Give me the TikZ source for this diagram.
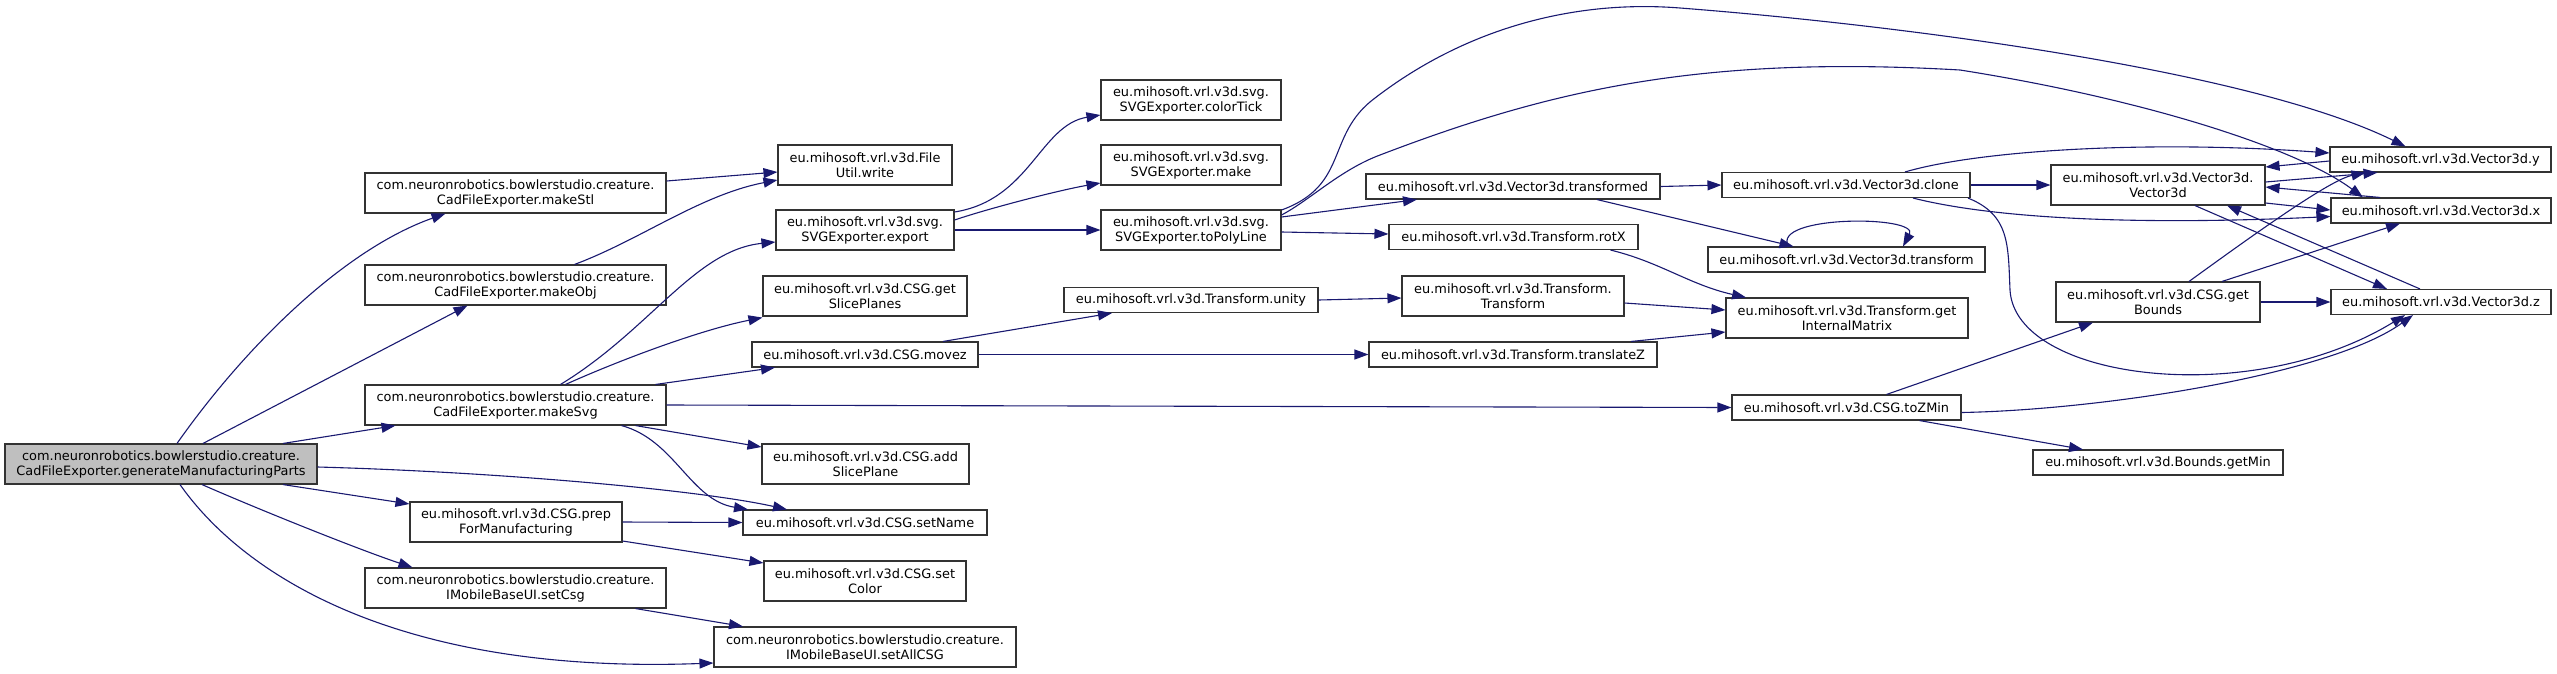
\documentclass[tikz,border=0pt]{standalone}
\usepackage{fontspec}
\setmainfont{DejaVu Sans}
\usetikzlibrary{arrows.meta,calc}
\definecolor{edgeblue}{HTML}{191970}
\tikzset{
  fn/.style={draw=black!80, fill=white, line width=1.1pt, inner sep=0pt, align=center,
    font=\fontsize{12.9}{15}\selectfont},
  oneline/.style={fn, minimum height=25},
  twoline/.style={fn, minimum height=40},
  call/.style={draw=edgeblue, line width=1.1pt, -{Triangle[length=14pt,width=10pt]}},
}
\begin{document}
\begin{tikzpicture}[x=1pt,y=-1pt]
\useasboundingbox (0,0) rectangle (2557,673);

% caller and first level
\node[twoline, fill=black!25, minimum width=312] (gmp) at (161,464) {com.neuronrobotics.bowlerstudio.creature.\\CadFileExporter.generateManufacturingParts};
\node[twoline, minimum width=301] (makeStl) at (515.5,193) {com.neuronrobotics.bowlerstudio.creature.\\CadFileExporter.makeStl};
\node[twoline, minimum width=301] (makeObj) at (515.5,285) {com.neuronrobotics.bowlerstudio.creature.\\CadFileExporter.makeObj};
\node[twoline, minimum width=301] (makeSvg) at (515.5,405) {com.neuronrobotics.bowlerstudio.creature.\\CadFileExporter.makeSvg};
\node[twoline, minimum width=212] (prepMfg) at (516,522) {eu.mihosoft.vrl.v3d.CSG.prep\\ForManufacturing};
\node[twoline, minimum width=301] (setCsg) at (515.5,588) {com.neuronrobotics.bowlerstudio.creature.\\IMobileBaseUI.setCsg};

% second level
\node[twoline, minimum width=174] (fileWrite) at (865,165) {eu.mihosoft.vrl.v3d.File\\Util.write};
\node[twoline, minimum width=178] (svgExport) at (865,230) {eu.mihosoft.vrl.v3d.svg.\\SVGExporter.export};
\node[twoline, minimum width=204] (getSlice) at (865,296) {eu.mihosoft.vrl.v3d.CSG.get\\SlicePlanes};
\node[oneline, minimum width=226] (moveZ) at (865,354.5) {eu.mihosoft.vrl.v3d.CSG.movez};
\node[twoline, minimum width=207] (addSlice) at (865.5,464) {eu.mihosoft.vrl.v3d.CSG.add\\SlicePlane};
\node[oneline, minimum width=244] (setName) at (865,522.5) {eu.mihosoft.vrl.v3d.CSG.setName};
\node[twoline, minimum width=202] (setColor) at (865,581) {eu.mihosoft.vrl.v3d.CSG.set\\Color};
\node[twoline, minimum width=302] (setAll) at (865,647) {com.neuronrobotics.bowlerstudio.creature.\\IMobileBaseUI.setAllCSG};

% svg exporter and transforms
\node[twoline, minimum width=180] (colorTick) at (1191,100) {eu.mihosoft.vrl.v3d.svg.\\SVGExporter.colorTick};
\node[twoline, minimum width=180] (svgMake) at (1191,165) {eu.mihosoft.vrl.v3d.svg.\\SVGExporter.make};
\node[twoline, minimum width=180] (polyLine) at (1191,230) {eu.mihosoft.vrl.v3d.svg.\\SVGExporter.toPolyLine};
\node[oneline, minimum width=254] (tfUnity) at (1191,300) {eu.mihosoft.vrl.v3d.Transform.unity};
\node[oneline, minimum width=294] (v3Transformed) at (1513,186.5) {eu.mihosoft.vrl.v3d.Vector3d.transformed};
\node[oneline, minimum width=249] (tfRotX) at (1513.5,237) {eu.mihosoft.vrl.v3d.Transform.rotX};
\node[twoline, minimum width=222] (tfCtor) at (1513,296) {eu.mihosoft.vrl.v3d.Transform.\\Transform};
\node[oneline, minimum width=288] (tfTranslateZ) at (1513,354.5) {eu.mihosoft.vrl.v3d.Transform.translateZ};

% vectors and bounds
\node[oneline, minimum width=248] (v3Clone) at (1846,185) {eu.mihosoft.vrl.v3d.Vector3d.clone};
\node[oneline, minimum width=277] (v3Transform) at (1846.5,259.5) {eu.mihosoft.vrl.v3d.Vector3d.transform};
\node[twoline, minimum width=242] (tfMatrix) at (1847,318) {eu.mihosoft.vrl.v3d.Transform.get\\InternalMatrix};
\node[oneline, minimum width=229] (toZMin) at (1846.5,407.5) {eu.mihosoft.vrl.v3d.CSG.toZMin};
\node[twoline, minimum width=214] (v3Ctor) at (2158,185) {eu.mihosoft.vrl.v3d.Vector3d.\\Vector3d};
\node[twoline, minimum width=204] (getBounds) at (2158,302) {eu.mihosoft.vrl.v3d.CSG.get\\Bounds};
\node[oneline, minimum width=250] (boundsMin) at (2158,462.5) {eu.mihosoft.vrl.v3d.Bounds.getMin};
\node[oneline, minimum width=221] (v3y) at (2440.5,159.5) {eu.mihosoft.vrl.v3d.Vector3d.y};
\node[oneline, minimum width=220] (v3x) at (2441,210.5) {eu.mihosoft.vrl.v3d.Vector3d.x};
\node[oneline, minimum width=220] (v3z) at (2441,302) {eu.mihosoft.vrl.v3d.Vector3d.z};

% calls from generateManufacturingParts
\draw[call] ($(gmp.north)+(16,0)$) .. controls (247,344) and (345,249) .. ($(makeStl.south)+(-70,0)$);
\draw[call] ($(gmp.north)+(42,0)$) -- ($(makeObj.south)+(-48,0)$);
\draw[call] ($(gmp.north)+(122,0)$) -- ($(makeSvg.south)+(-120,0)$);
\draw[call] ($(gmp.east)+(0,3)$) .. controls (500,472) and (700,490) .. ($(setName.north)+(-78,0)$);
\draw[call] ($(gmp.south)+(122,0)$) -- ($(prepMfg.west)+(0,-18)$);
\draw[call] ($(gmp.south)+(41,0)$) .. controls (260,510) and (360,550) .. ($(setCsg.north)+(-103,0)$);
\draw[call] ($(gmp.south)+(19,0)$) .. controls (240,570) and (390,675) .. ($(setAll.west)+(0,16)$);

% first level calls
\draw[call] ($(makeStl.east)+(0,-12)$) -- ($(fileWrite.west)+(0,7)$);
\draw[call] ($(makeObj.north)+(59,0)$) .. controls (640,240) and (700,195) .. ($(fileWrite.west)+(0,15)$);
\draw[call] ($(makeSvg.north)+(45,0)$) .. controls (650,330) and (695,250) .. ($(svgExport.west)+(0,12)$);
\draw[call] ($(makeSvg.north)+(50,0)$) .. controls (620,360) and (700,330) .. ($(getSlice.south west)+(0,1)$);
\draw[call] ($(makeSvg.north)+(140,0)$) -- ($(moveZ.south)+(-90,0)$);
\draw[call] (makeSvg.east) -- (toZMin.west);
\draw[call] ($(makeSvg.south)+(120,0)$) -- ($(addSlice.west)+(0,-17)$);
\draw[call] ($(makeSvg.south)+(106,0)$) .. controls (675,440) and (690,500) .. ($(setName.north)+(-117,0)$);
\draw[call] (prepMfg.east) -- (setName.west);
\draw[call] ($(prepMfg.east)+(0,19)$) -- ($(setColor.west)+(0,-18)$);
\draw[call] ($(setCsg.south)+(120,0)$) -- ($(setAll.north)+(-122,0)$);

% svg exporter calls
\draw[call] ($(svgExport.east)+(0,-18)$) .. controls (1030,200) and (1040,125) .. ($(colorTick.west)+(0,15)$);
\draw[call] ($(svgExport.east)+(0,-10)$) .. controls (990,208) and (1060,190) .. ($(svgMake.west)+(0,18)$);
\draw[call] (svgExport.east) -- (polyLine.west);
\draw[call] ($(polyLine.east)+(0,-20)$) .. controls (1350,185) and (1325,135) .. (1375,98)
  .. controls (1470,25) and (1580,0) .. (1680,8) .. controls (1900,25) and (2250,70) .. ($(v3y.north)+(-35,0)$);
\draw[call] ($(polyLine.east)+(0,-15)$) .. controls (1310,200) and (1340,170) .. (1380,155)
  .. controls (1550,90) and (1700,55) .. (1960,70) .. controls (2150,100) and (2300,150) .. ($(v3x.north)+(-78,0)$);
\draw[call] ($(polyLine.east)+(0,-13)$) -- ($(v3Transformed.south)+(-96,0)$);
\draw[call] ($(polyLine.east)+(0,2)$) -- ($(tfRotX.west)+(0,-3)$);

% transform calls
\draw[call] ($(moveZ.north)+(78,0)$) -- ($(tfUnity.south)+(-79,0)$);
\draw[call] (moveZ.east) -- (tfTranslateZ.west);
\draw[call] (tfUnity.east) -- ($(tfCtor.west)+(0,2)$);
\draw[call] ($(tfCtor.east)+(0,7)$) -- ($(tfMatrix.west)+(0,-8)$);
\draw[call] ($(tfTranslateZ.north)+(118,0)$) -- ($(tfMatrix.west)+(0,14)$);
\draw[call] ($(tfRotX.south)+(97,0)$) .. controls (1660,262) and (1690,285) .. ($(tfMatrix.north)+(-101,0)$);
\draw[call] (v3Transformed.east) -- (v3Clone.west);
\draw[call] ($(v3Transformed.south)+(84,0)$) -- ($(v3Transform.north)+(-53,0)$);
\draw[call] ($(v3Transform.north)+(-58,0)$) .. controls (1770,215) and (1920,215) .. ($(v3Transform.north)+(56.5,0)$);

% vector calls
\draw[call] (v3Clone.east) -- (v3Ctor.west);
\draw[call] ($(v3Clone.north)+(59,0)$) .. controls (1980,150) and (2150,140) .. ($(v3y.west)+(0,-6.5)$);
\draw[call] ($(v3Clone.south)+(67,0)$) .. controls (2000,220) and (2150,225) .. ($(v3x.west)+(0,6)$);
\draw[call] ($(v3Clone.south)+(122,0)$) .. controls (2010,215) and (2008,245) .. (2010,290)
  .. controls (2015,380) and (2250,410) .. ($(v3z.south)+(-36,0)$);
\draw[call] ($(v3Ctor.east)+(0,-3)$) -- ($(v3y.south)+(-63,0)$);
\draw[call] ($(v3y.west)+(0,1.5)$) -- ($(v3Ctor.east)+(0,-18)$);
\draw[call] ($(v3Ctor.east)+(0,18)$) -- ($(v3x.west)+(0,-0.5)$);
\draw[call] ($(v3x.north)+(-61,0)$) -- ($(v3Ctor.east)+(0,2)$);
\draw[call] ($(v3Ctor.south)+(37,0)$) -- ($(v3z.north)+(-54,0)$);
\draw[call] ($(v3z.north)+(-21,0)$) -- ($(v3Ctor.south)+(69,0)$);
\draw[call] ($(getBounds.north)+(31,0)$) .. controls (2260,230) and (2330,180) .. ($(v3y.south)+(-75,0)$);
\draw[call] ($(getBounds.north)+(64,0)$) -- ($(v3x.south)+(-41,0)$);
\draw[call] (getBounds.east) -- (v3z.west);
\draw[call] ($(toZMin.north)+(40,0)$) -- ($(getBounds.south)+(-65,0)$);
\draw[call] ($(toZMin.east)+(0,5)$) .. controls (2100,410) and (2330,375) .. ($(v3z.south)+(-28,0)$);
\draw[call] ($(toZMin.south)+(73,0)$) -- ($(boundsMin.north)+(-75,0)$);
\end{tikzpicture}
\end{document}
